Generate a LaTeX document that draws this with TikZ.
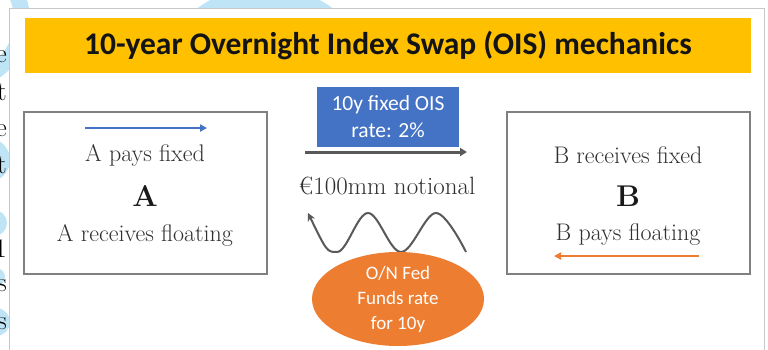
\documentclass[tikz,border=0pt]{standalone}
\usepackage{fontspec}
\newfontfamily\calfont{Carlito}
\usetikzlibrary{arrows.meta,shapes.geometric}
\definecolor{titlebg}{HTML}{FFC000}
\definecolor{oisblue}{HTML}{4472C4}
\definecolor{oisorange}{HTML}{ED7D31}
\definecolor{darkline}{HTML}{595959}
\definecolor{boxline}{HTML}{808080}
\definecolor{framegray}{HTML}{C8C8C8}
\definecolor{bgblue}{RGB}{190,228,246}
\definecolor{txtgray}{HTML}{303030}
\tikzset{
  party/.style={draw=boxline, line width=2pt, fill=white, minimum width=243pt, minimum height=162pt, inner sep=0pt},
  serif/.style={font=\fontsize{24}{28}\selectfont, text=txtgray, inner sep=0pt},
  bigletter/.style={font=\fontsize{30}{32}\selectfont\bfseries, text=black!90, inner sep=0pt},
  flowarrow/.style={line width=2.5pt, -{Triangle[length=7pt,width=7pt]}},
  strip/.style={font=\fontsize{27}{30}\selectfont, anchor=base east, inner sep=0pt}
}
\begin{document}
\begin{tikzpicture}[x=1pt,y=-1pt]
\useasboundingbox (0,0) rectangle (768,349);
\begin{scope}
\clip (0,0) rectangle (768,349);
% light blue background shapes (behind the frame)
\draw[bgblue, line width=16pt] (-40,20) circle (62);
\fill[bgblue] (265,100) circle (114);
\fill[bgblue] (-12,160) circle (22);
\fill[bgblue] (-6,223) circle (13);
\fill[bgblue] (-4,277) circle (9);
\fill[bgblue] (-4,322) circle (14);
% frame
\filldraw[draw=framegray, fill=white, line width=1pt] (9,8) rectangle (764,380);
% left strip letters (cut off by the screenshot edge)
\node[strip] (s1) at (7,62) {e};
\node[strip] (s2) at (7,100) {t};
\node[strip] (s3) at (7,136) {e};
\node[strip] (s4) at (7,173) {t};
\node[strip] (s5) at (7,257) {1};
\node[strip] (s6) at (7,291) {s};
\node[strip] (s7) at (7,329) {s};
\end{scope}
% title
\node[fill=titlebg, minimum width=726pt, minimum height=55pt, inner sep=0pt,
      font=\calfont\bfseries\fontsize{31.5}{34}\selectfont, text=black!92] (title) at (388,45.5)
      {10-year Overnight Index Swap (OIS) mechanics};
% parties
\node[party] (A) at (145.5,193) {};
\node[party] (B) at (628,193) {};
\coordinate (aS) at (85,128);
\coordinate (aE) at (207,128);
\draw[flowarrow, oisblue] (aS) -- (aE);
\node[serif] (apf) at (145,155) {A pays fixed};
\node[bigletter] (Al) at (145,196) {A};
\node[serif] (arf) at (145,235) {A receives floating};
\node[serif] (brf) at (628,155) {B receives fixed};
\node[bigletter] (Bl) at (628,196) {B};
\node[serif] (bpf) at (628,235) {B pays floating};
\coordinate (bS) at (699,256);
\coordinate (bE) at (554,256);
\draw[flowarrow, oisorange] (bS) -- (bE);
% fixed leg
\node[fill=oisblue, minimum width=142pt, minimum height=60pt, inner sep=0pt, align=center,
      font=\calfont\fontsize{21.5}{27}\selectfont, text=white] (fixed) at (388,117)
      {10y fixed OIS\\rate: 2\%};
\coordinate (gS) at (305,152);
\coordinate (gE) at (467,152);
\draw[line width=3pt, darkline, -{Triangle[length=7pt,width=8pt]}] (gS) -- (gE);
\node[font=\fontsize{25}{28}\selectfont, text=txtgray, inner sep=0pt] (notional) at (387,186) {€100mm notional};
% floating leg wave
\coordinate (w0) at (308,213);
\coordinate (w1) at (337,252);
\coordinate (w2) at (368,213);
\coordinate (w3) at (401,252);
\coordinate (w4) at (436,213);
\coordinate (w5) at (466,252);
\draw[line width=2pt, darkline, {Stealth[length=8pt,width=8pt]}-]
  plot[smooth, tension=0.6] coordinates {(w0) (w1) (w2) (w3) (w4) (w5)};
\node[ellipse, fill=oisorange, minimum width=172pt, minimum height=94pt, inner sep=0pt, align=center,
      font=\calfont\fontsize{19}{25}\selectfont, text=white] (float) at (398,299)
      {O/N Fed\\Funds rate\\for 10y};
\end{tikzpicture}
\end{document}
